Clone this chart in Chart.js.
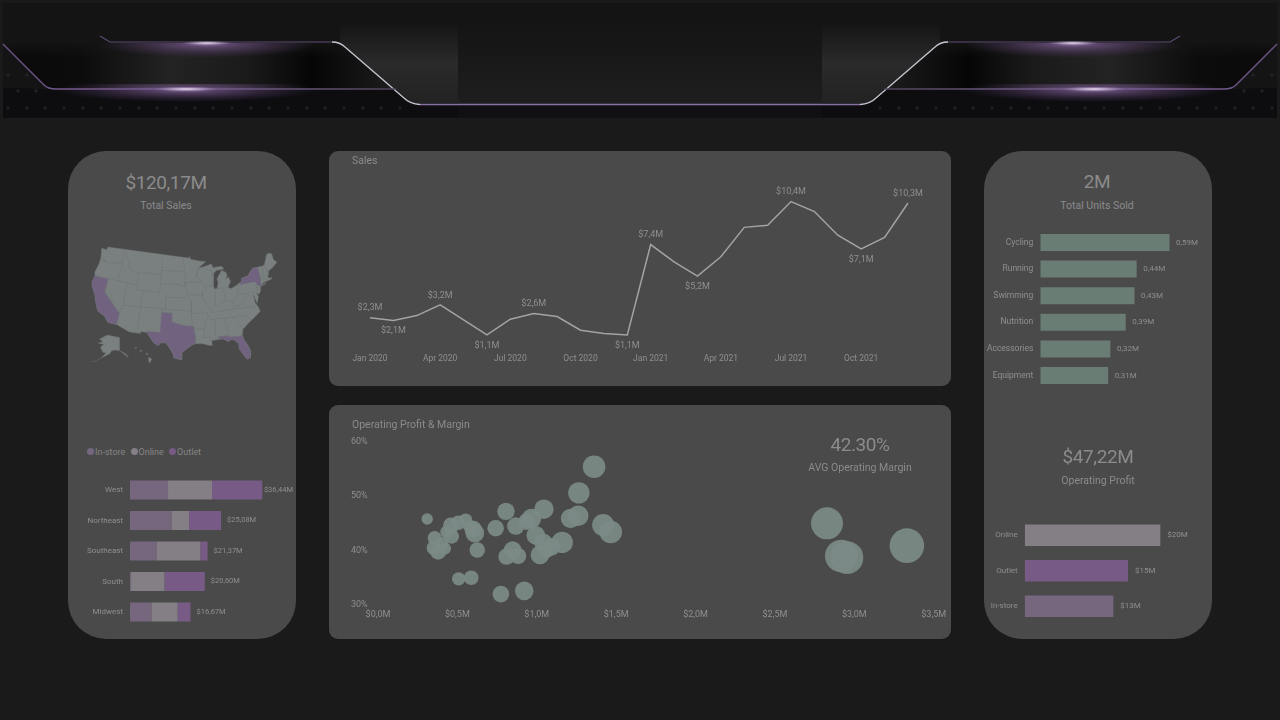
<!DOCTYPE html>
<html>
<head>
<meta charset="utf-8">
<title>Sales dashboard</title>
<script src="https://cdn.jsdelivr.net/npm/chart.js@4"></script>
<style>
  html, body { margin: 0; padding: 0; background: #1a1a1a; }
  body { width: 1280px; height: 720px; position: relative; overflow: hidden; font-family: Roboto, sans-serif; color: #8b8b8b; }
  .panel { position: absolute; background: #4a4a4a; }
  .tall { top: 151px; width: 228px; height: 488px; border-radius: 38px; }
  .wide { left: 329px; width: 622px; border-radius: 9px; }
  canvas { position: absolute; }
  .txt { position: absolute; white-space: nowrap; transform: translate(-50%, -50%); }
  .kpi { font-size: 19px; letter-spacing: -0.4px; }
  .sub { font-size: 10.5px; }
  .title { position: absolute; font-size: 10.5px; white-space: nowrap; }
  .legend { position: absolute; left: 87px; top: 446px; font-size: 9px; line-height: 12px; white-space: nowrap; color: #858585; }
  .legend i { display: inline-block; width: 7px; height: 7px; border-radius: 50%; margin: 0 1px 0 0; }
  .legend span { margin-right: 3px; }
  #banner { position: absolute; left: 0; top: 0; }
</style>
</head>
<body>
<svg id="banner" width="1280" height="120" viewBox="0 0 1280 120">
  <defs>
    <radialGradient id="glowPurple">
      <stop offset="0" stop-color="#b79ccc"/>
      <stop offset="0.2" stop-color="#7f5f95" stop-opacity="0.9"/>
      <stop offset="1" stop-color="#5c3f70" stop-opacity="0"/>
    </radialGradient>
    <radialGradient id="spark">
      <stop offset="0" stop-color="#f2e8f8"/>
      <stop offset="1" stop-color="#b79ccc" stop-opacity="0"/>
    </radialGradient>
    <linearGradient id="sideDark" x1="0" x2="1" y1="0" y2="0">
      <stop offset="0" stop-color="#0a0a0a"/>
      <stop offset="0.2" stop-color="#0c0c0c"/>
      <stop offset="0.42" stop-color="#232323"/>
      <stop offset="0.62" stop-color="#1a1a1a"/>
      <stop offset="0.78" stop-color="#050505"/>
      <stop offset="1" stop-color="#1f1f1f"/>
    </linearGradient>
    <linearGradient id="topFade" x1="0" x2="0" y1="0" y2="1">
      <stop offset="0" stop-color="#141414"/>
      <stop offset="0.35" stop-color="#141414" stop-opacity="0"/>
    </linearGradient>
    <linearGradient id="shoulder" gradientUnits="userSpaceOnUse" x1="0" x2="0" y1="22" y2="104">
      <stop offset="0" stop-color="#2a2a2a" stop-opacity="0"/>
      <stop offset="0.5" stop-color="#2a2a2a"/>
      <stop offset="1" stop-color="#222"/>
    </linearGradient>
    <linearGradient id="midDark" x1="0" x2="0" y1="0" y2="1">
      <stop offset="0" stop-color="#141414"/>
      <stop offset="1" stop-color="#1e1e1e"/>
    </linearGradient>
    <linearGradient id="edgeFade" x1="0" x2="1" y1="0" y2="0">
      <stop offset="0" stop-color="#6f5587"/>
      <stop offset="0.5" stop-color="#7a5f92"/>
      <stop offset="1" stop-color="#4e4458"/>
    </linearGradient>
    <clipPath id="underUpper"><rect x="0" y="43" width="460" height="42"/></clipPath>
    <clipPath id="underLower"><rect x="0" y="84" width="460" height="34"/></clipPath>
    <g id="bannerSide">
      <path d="M3 44 L47 88 L400 88 L342 43 L105 43 L60 43 Z" fill="url(#sideDark)"/>
      <rect x="3" y="40" width="400" height="50" fill="url(#topFade)"/>
      <path d="M340 43 L412 103 L458 103 L458 22 L340 22 Z" fill="url(#shoulder)"/>
      <path d="M3 88 L47 89 L395 89 L412 105 L458 106 L458 118 L3 118 Z" fill="#0d0d10"/>
      <g clip-path="url(#underUpper)"><ellipse cx="207" cy="44" rx="110" ry="14" fill="url(#glowPurple)" opacity="0.75"/></g>
      <g clip-path="url(#underLower)"><ellipse cx="186" cy="90" rx="130" ry="12" fill="url(#glowPurple)" opacity="0.75"/></g>
      <path d="M100 36 L110 42 L332 42" fill="none" stroke="#5f4a72" stroke-width="1.2"/>
      <path d="M332 42 Q340 42 345 47 L404 98 Q410 104 420 104.5" fill="none" stroke="#c9c7d2" stroke-width="1.3"/>
      <path d="M3 44 L44 85 Q48 89 56 89 L396 89" fill="none" stroke="url(#edgeFade)" stroke-width="1.3"/>
      <ellipse cx="186" cy="89" rx="32" ry="2.4" fill="url(#spark)"/>
      <ellipse cx="207" cy="43" rx="26" ry="2.2" fill="url(#spark)"/>
      <g fill="#212124">
        <circle cx="8" cy="108" r="1.8"/><circle cx="27" cy="108" r="1.8"/><circle cx="45" cy="108" r="1.8"/>
        <circle cx="64" cy="108" r="1.8"/><circle cx="83" cy="108" r="1.8"/><circle cx="101" cy="108" r="1.8"/>
        <circle cx="120" cy="108" r="1.8"/><circle cx="139" cy="108" r="1.8"/><circle cx="157" cy="108" r="1.8"/>
        <circle cx="176" cy="108" r="1.8"/><circle cx="195" cy="108" r="1.8"/><circle cx="213" cy="108" r="1.8"/>
        <circle cx="232" cy="108" r="1.8"/><circle cx="251" cy="108" r="1.8"/><circle cx="269" cy="108" r="1.8"/>
        <circle cx="288" cy="108" r="1.8"/><circle cx="307" cy="108" r="1.8"/><circle cx="325" cy="108" r="1.8"/>
        <circle cx="344" cy="108" r="1.8"/><circle cx="363" cy="108" r="1.8"/><circle cx="381" cy="108" r="1.8"/>
        <circle cx="400" cy="108" r="1.8"/>
        <circle cx="8" cy="75" r="1.8"/><circle cx="27" cy="75" r="1.8"/><circle cx="18" cy="91" r="1.8"/><circle cx="36" cy="91" r="1.8"/>
      </g>
    </g>
  </defs>
  <rect x="3" y="3" width="1274" height="115" fill="#141414"/>
  <rect x="458" y="22" width="364" height="82" fill="url(#midDark)"/>
  <rect x="458" y="105" width="364" height="13" fill="#101013"/>
  <use href="#bannerSide"/>
  <use href="#bannerSide" transform="translate(1280 0) scale(-1 1)"/>
  <path d="M420 104.5 L860 104.5" stroke="#8a6fa2" stroke-width="1.4"/>
</svg>

<div class="panel tall" style="left:68px"></div>
<div class="panel tall" style="left:984px"></div>
<div class="panel wide" style="top:151px;height:235px"></div>
<div class="panel wide" style="top:405px;height:234px"></div>

<canvas id="mapChart" width="200" height="130" style="left:85px;top:240px"></canvas>
<canvas id="regionChart" width="228" height="165" style="left:68px;top:470px"></canvas>
<canvas id="salesChart" width="622" height="235" style="left:329px;top:151px"></canvas>
<canvas id="marginChart" width="622" height="234" style="left:329px;top:405px"></canvas>
<canvas id="unitsChart" width="228" height="175" style="left:984px;top:220px"></canvas>
<canvas id="profitChart" width="228" height="130" style="left:984px;top:505px"></canvas>

<div class="txt kpi" style="left:166px;top:182px">$120,17M</div>
<div class="txt sub" style="left:166px;top:205px">Total Sales</div>
<div class="legend">
  <i style="background:#76677f"></i><span>In-store</span>
  <i style="background:#837f85"></i><span>Online</span>
  <i style="background:#785a86"></i><span>Outlet</span>
</div>
<div class="title" style="left:352px;top:154px">Sales</div>
<div class="title" style="left:352px;top:418px">Operating Profit &amp; Margin</div>
<div class="txt kpi" style="left:860px;top:444px">42.30%</div>
<div class="txt sub" style="left:860px;top:467px">AVG Operating Margin</div>
<div class="txt kpi" style="left:1097px;top:181px">2M</div>
<div class="txt sub" style="left:1097px;top:205px">Total Units Sold</div>
<div class="txt kpi" style="left:1098px;top:456px">$47,22M</div>
<div class="txt sub" style="left:1098px;top:480px">Operating Profit</div>

<script>
const months = ['Jan 2020', 'Feb 2020', 'Mar 2020', 'Apr 2020', 'May 2020', 'Jun 2020', 'Jul 2020', 'Aug 2020', 'Sep 2020', 'Oct 2020', 'Nov 2020', 'Dec 2020',
  'Jan 2021', 'Feb 2021', 'Mar 2021', 'Apr 2021', 'May 2021', 'Jun 2021', 'Jul 2021', 'Aug 2021', 'Sep 2021', 'Oct 2021', 'Nov 2021', 'Dec 2021'];
const salesByMonth = [2.3, 2.1, 2.45, 3.2, 2.15, 1.1, 2.2, 2.6, 2.38, 1.43, 1.2, 1.1, 7.4, 6.2, 5.2, 6.55, 8.6, 8.75, 10.4, 9.7, 8.05, 7.1, 7.9, 10.3];
const salesLabelledAbove = [0, 3, 7, 12, 18, 23];
const salesLabelledBelow = [1, 5, 11, 14, 21];

const regions = ['West', 'Northeast', 'Southeast', 'South', 'Midwest'];
const regionInStore = [10.47, 11.39, 7.25, 0.3, 5.87];
const regionOnline = [12.12, 4.87, 12.12, 9.2, 7.25];
const regionOutlet = [13.85, 8.82, 2.0, 11.1, 3.55];
const regionTotals = [36.44, 25.08, 21.37, 20.6, 16.67];

const products = ['Cycling', 'Running', 'Swimming', 'Nutrition', 'Accessories', 'Equipment'];
const unitsSold = [0.59, 0.44, 0.43, 0.39, 0.32, 0.31];

const channels = ['Online', 'Outlet', 'In-store'];
const channelProfit = [19.55, 14.89, 12.78];

const profitTicks = ['$0,0M', '$0,5M', '$1,0M', '$1,5M', '$2,0M', '$2,5M', '$3,0M', '$3,5M'];
const bubbleProfit = [1.361, 1.265, 1.045, 0.806, 0.31, 1.261, 1.213, 0.967, 0.936, 0.868, 0.741, 1.418, 1.466, 0.552, 0.505, 0.579, 0.61, 0.432, 0.464, 0.357,
  0.352, 0.379, 0.422, 0.625, 0.994, 1.04, 1.16, 1.093, 1.02, 0.848, 0.81, 0.883, 0.508, 0.587, 0.774, 0.921, 2.828, 3.331, 2.918, 2.954, 0.4, 0.46, 0.6, 1.06];
const bubbleMargin = [55.4, 50.6, 47.6, 47.2, 45.8, 46.4, 45.9, 45.9, 45.3, 44.5, 44.1, 44.7, 43.4, 45.6, 45.1, 44.4, 43.2, 43.4, 42.6, 42.3,
  40.5, 39.8, 40.4, 40.1, 42.8, 41.5, 41.5, 40.7, 39.2, 40.1, 38.9, 39.0, 34.8, 35.0, 32.0, 32.6, 45.0, 40.9, 39.0, 38.7, 41.2, 44.6, 43.9, 40.3];
const bubbleSize = [11.3, 10.7, 9.7, 8.7, 5.7, 10.3, 9.7, 9.7, 8.3, 8.7, 8.3, 11, 11.3, 6.7, 7.3, 6.7, 9.3, 6.3, 7.3, 7,
  7.3, 8, 6, 7.7, 9.3, 9, 10.7, 8.7, 9.3, 8.7, 8.3, 8, 6.7, 7.3, 8.3, 9.3, 16, 17.3, 16.3, 16.3, 7, 8, 8.5, 9];

// state outlines as [lon, lat]
const usOutline = [[-124.7,48.4],[-123,48.3],[-122.8,49],[-95.2,49],[-95.15,49.4],[-94.6,48.7],[-92,48.3],[-89.6,48],[-92.1,46.75],[-90.5,46.9],[-88.4,47.3],[-87.9,47.45],[-87.4,46.5],[-85,46.7],[-84.4,46.5],[-84,46],[-84.8,45.9],[-86.5,45.8],[-87.6,45.1],[-88,44.55],[-87.3,45.2],[-87.7,43.8],[-87.8,42.5],[-87.5,41.7],[-86.8,41.8],[-86.3,43],[-86.5,44],[-85.5,45],[-84.8,45.75],[-83.4,45.1],[-83.3,44.3],[-83.9,43.7],[-82.9,44.05],[-82.45,43],[-83.1,42.2],[-83.4,41.7],[-82.5,41.4],[-81,41.9],[-79,42.7],[-79,43.27],[-76.8,43.6],[-76.2,44.2],[-75,45],[-71.5,45],[-71,45.3],[-70.3,46.2],[-70,46.7],[-69.2,47.45],[-68.3,47.35],[-67.8,47.05],[-67.8,45.7],[-67,44.9],[-69,44],[-70.2,43.6],[-70.7,43],[-70.8,42.6],[-71,42.3],[-70.6,41.95],[-70,42],[-70,41.65],[-71.2,41.5],[-72.9,41.25],[-73.7,40.95],[-72,41.05],[-74,40.55],[-74.1,39.7],[-74.9,38.95],[-75.5,39.5],[-75.1,38.5],[-75.9,37.1],[-76.4,39.2],[-76.4,37.2],[-75.9,36.6],[-75.5,35.25],[-76.5,34.65],[-77.9,33.9],[-79.2,33.2],[-81,32],[-81.4,30.7],[-81.2,29.6],[-80.5,28.4],[-80,26.8],[-80.3,25.4],[-81.1,25.1],[-81.8,26.1],[-82.7,27.7],[-82.7,28.9],[-83.7,29.9],[-84.3,30.05],[-85.3,29.7],[-86.5,30.4],[-88,30.3],[-89.5,30.2],[-89.4,29.1],[-90.5,29.2],[-91.8,29.6],[-93.8,29.7],[-94.8,29.3],[-96,28.5],[-97.2,27.6],[-97.2,26],[-99.1,26.4],[-99.5,27.5],[-100.6,29],[-101.4,29.77],[-102.7,29.7],[-103.2,29],[-104.5,29.6],[-106.5,31.75],[-108.2,31.78],[-108.2,31.33],[-111.07,31.33],[-114.8,32.5],[-117.1,32.53],[-118.4,33.75],[-120.6,34.55],[-121.9,36.6],[-122.5,37.8],[-123.8,39.3],[-124.4,40.4],[-124.1,41.9],[-124.5,42.8],[-124,44.8],[-124,46.3],[-124.7,48.4]];
const stateCA = [[-124.2,42],[-120,42],[-120,39],[-114.6,35],[-114.8,32.5],[-117.1,32.53],[-118.4,33.75],[-120.6,34.55],[-121.9,36.6],[-122.5,37.8],[-123.8,39.3],[-124.4,40.4],[-124.2,42]];
const stateTX = [[-103,36.5],[-100,36.5],[-100,34.56],[-97,33.8],[-94.5,33.65],[-94.05,33.6],[-94.05,33],[-93.6,31.2],[-93.8,29.7],[-94.8,29.3],[-96,28.5],[-97.2,27.6],[-97.2,26],[-99.1,26.4],[-99.5,27.5],[-100.6,29],[-101.4,29.77],[-102.7,29.7],[-103.2,29],[-104.5,29.6],[-106.5,31.75],[-106.6,32],[-103,32],[-103,36.5]];
const stateFL = [[-87.6,31],[-85,31],[-85,30.7],[-82.2,30.55],[-81.4,30.7],[-81.2,29.6],[-80.5,28.4],[-80,26.8],[-80.3,25.4],[-81.1,25.1],[-81.8,26.1],[-82.7,27.7],[-82.7,28.9],[-83.7,29.9],[-84.3,30.05],[-85.3,29.7],[-86.5,30.4],[-87.6,30.3],[-87.6,31]];
const stateNY = [[-79.76,42.27],[-79,42.7],[-79,43.27],[-76.8,43.6],[-76.2,44.2],[-75,45],[-73.35,45],[-73.3,43.6],[-73.3,42.75],[-73.5,42.05],[-73.65,41],[-72,41.05],[-74,40.6],[-74.7,41.35],[-75.35,42],[-79.76,42],[-79.76,42.27]];
const stateLines = [
  [[-124,46.25],[-123,46.1],[-122.7,45.6],[-121,45.65],[-119,45.95],[-116.92,46]],
  [[-117.03,49],[-117.04,46.4],[-116.92,46],[-116.5,45.5],[-117,44.2],[-117.03,42]],
  [[-124.2,42],[-111.05,42]],
  [[-116.05,49],[-116.05,48],[-114.5,46.6],[-114.5,45.6],[-113.5,45],[-111.05,44.5]],
  [[-111.05,45],[-104.05,45]],
  [[-111.05,45],[-111.05,41],[-104.05,41]],
  [[-104.05,49],[-104.05,41]],
  [[-104.05,45.94],[-96.56,45.94]],
  [[-104.05,43],[-98.5,43],[-96.45,42.5]],
  [[-102.05,41],[-102.05,37]],
  [[-102.05,40],[-95.3,40]],
  [[-109.05,41],[-109.05,31.33]],
  [[-114.05,37],[-94.62,37]],
  [[-114.05,42],[-114.05,36.2],[-114.6,36.1],[-114.6,35]],
  [[-120,42],[-120,39],[-114.6,35]],
  [[-103,37],[-103,36.5]],
  [[-103,36.5],[-100,36.5]],
  [[-94.62,39.1],[-94.62,36.5],[-90.1,36.5],[-90.35,36],[-89.7,36]],
  [[-95.3,40],[-94.9,39.8],[-94.62,39.1]],
  [[-94.62,36.5],[-94.45,33.65]],
  [[-94.05,33],[-91.15,33]],
  [[-91.15,33],[-91.6,31],[-89.75,31],[-89.5,30.2]],
  [[-89.7,36],[-90.6,34.8],[-91.15,33]],
  [[-92.1,46.75],[-92.3,46.1],[-92.8,45.5],[-92.8,44.8],[-91.2,43.5]],
  [[-96.45,43.5],[-91.2,43.5]],
  [[-97.2,49],[-96.56,45.94],[-96.45,43.5],[-96.45,42.5],[-95.9,41.3],[-95.3,40]],
  [[-95.3,40.6],[-91.7,40.6],[-91.4,40.4]],
  [[-91.2,43.5],[-90.65,42.5],[-90.2,41.8],[-91.1,41.2],[-91.4,40.4],[-91.5,40],[-90.7,39],[-90.2,38.7],[-89.5,37.3],[-89.15,37]],
  [[-90.65,42.5],[-87.8,42.5]],
  [[-90.4,46.55],[-88.1,45.9],[-87.6,45.1]],
  [[-87.53,41.7],[-87.53,39.3],[-88,37.9]],
  [[-84.8,41.7],[-84.8,39.1]],
  [[-87,41.76],[-83.4,41.73]],
  [[-89.15,37],[-88,37.9],[-86.5,38],[-85.5,38.5],[-84.8,39.1],[-84,38.8],[-82.6,38.4],[-81.7,39.2],[-80.6,40.6]],
  [[-80.52,42],[-80.52,39.72],[-75.8,39.72]],
  [[-74.7,41.35],[-75.1,40.9],[-74.7,40.1],[-75.5,39.8]],
  [[-82,37.5],[-81.7,37.2],[-80,37.5],[-78.9,38.8],[-77.8,39.3]],
  [[-82.6,38.4],[-82,37.5],[-83.7,36.6]],
  [[-89.5,36.5],[-75.9,36.55]],
  [[-90.3,35],[-83.1,35],[-81,35.1],[-79.7,34.8],[-78.5,33.85]],
  [[-88.2,35],[-88.4,30.3]],
  [[-85.6,35],[-85.1,32],[-85,31]],
  [[-83.1,35],[-81,32]],
  [[-71.5,45],[-72.5,42.75]],
  [[-73.3,42.75],[-70.8,42.75]],
  [[-71.05,45.3],[-70.7,43.1]],
  [[-73.5,42.05],[-71.4,42]],
  [[-71.8,42],[-71.85,41.3]]
];
const alaska = [[-141,69.6],[-156.5,71.3],[-166,68.5],[-162,66.5],[-168,65.6],[-161,64.5],[-165,62.5],[-162,59],[-158,58.5],[-164,54.8],[-153,58],[-151,60],[-146,60.5],[-141,60],[-135,57.5],[-130,55],[-133,57.8],[-137,59],[-141,60.2],[-141,69.6]];
const aleutians = [[-164,54.8],[-170,53],[-176,52]];
const hawaiiIslands = [
  [[-155.9,20.2],[-155,19.8],[-155.6,19],[-156,19.6],[-155.9,20.2]],
  [[-156.7,21],[-156,20.8],[-156.4,20.6],[-156.7,21]],
  [[-158.3,21.6],[-157.7,21.4],[-158.1,21.3],[-158.3,21.6]],
  [[-159.8,22.2],[-159.3,22.1],[-159.5,21.9],[-159.8,22.2]]
];

Chart.defaults.animation = false;
Chart.defaults.responsive = false;
Chart.defaults.font.family = 'Roboto, sans-serif';
Chart.defaults.color = '#8f8f8f';
Chart.defaults.plugins.legend.display = false;
Chart.defaults.plugins.tooltip.enabled = false;

const TEXT = '#8f8f8f';
const GREEN = '#6a7d74';
const IN_STORE = '#76677f';
const ONLINE = '#837f85';
const OUTLET = '#785a86';

function money(v, digits) {
  return '$' + v.toFixed(digits).replace('.', ',') + 'M';
}

// albers conic, then fitted to the map box of the page
function albers(lon, lat) {
  const r = Math.PI / 180;
  const p1 = 29.5 * r, p2 = 45.5 * r;
  const n = (Math.sin(p1) + Math.sin(p2)) / 2;
  const c = Math.cos(p1) ** 2 + 2 * n * Math.sin(p1);
  const rho = Math.sqrt(c - 2 * n * Math.sin(lat * r)) / n;
  const rho0 = Math.sqrt(c - 2 * n * Math.sin(37.5 * r)) / n;
  const th = n * (lon + 96) * r;
  return [rho * Math.sin(th), rho0 - rho * Math.cos(th)];
}
const flat = usOutline.map(p => albers(p[0], p[1]));
const minX = Math.min(...flat.map(p => p[0])), maxX = Math.max(...flat.map(p => p[0]));
const minY = Math.min(...flat.map(p => p[1])), maxY = Math.max(...flat.map(p => p[1]));
function lower48(p) {
  const q = albers(p[0], p[1]);
  return { x: 92 + (q[0] - minX) / (maxX - minX) * 185, y: 247 + (maxY - q[1]) / (maxY - minY) * 113 };
}
const alaskaPoint = p => ({ x: 98 + (p[0] + 168) * 0.8, y: 335 + (71.3 - p[1]) * 1.4 });
const hawaiiPoint = p => ({ x: 150 + (p[0] + 155.5) * 3.5, y: 360 - (p[1] - 19.6) * 5 });

function mapShape(points, fillColor) {
  return { data: points, showLine: true, pointRadius: 0, borderWidth: 0.4, borderColor: '#6c7271', backgroundColor: fillColor, fill: 'shape' };
}
function mapLine(points) {
  return { data: points, showLine: true, pointRadius: 0, borderWidth: 0.5, borderColor: '#6c7271', fill: false };
}
const MAP_GREY = '#7a807f';
const MAP_PURPLE = '#716280';

// first dataset ends up on top
new Chart(document.getElementById('mapChart'), {
  type: 'scatter',
  data: {
    datasets: [
      ...stateLines.map(l => mapLine(l.map(lower48))),
      mapShape(stateCA.map(lower48), MAP_PURPLE),
      mapShape(stateTX.map(lower48), MAP_PURPLE),
      mapShape(stateFL.map(lower48), MAP_PURPLE),
      mapShape(stateNY.map(lower48), MAP_PURPLE),
      mapShape(usOutline.map(lower48), MAP_GREY),
      mapShape(alaska.map(alaskaPoint), MAP_GREY),
      mapLine(aleutians.map(alaskaPoint)),
      ...hawaiiIslands.map(i => mapShape(i.map(hawaiiPoint), MAP_GREY)),
    ],
  },
  options: {
    scales: {
      x: { type: 'linear', display: false, min: 85, max: 285 },
      y: { type: 'linear', display: false, min: 240, max: 370, reverse: true },
    },
  },
});

// text to the right of the last stacked bar, kept inside the card
function barEndLabels(texts, fontSize, gap) {
  return {
    id: 'barEndLabels',
    afterDatasetsDraw(chart) {
      const ctx = chart.ctx;
      const last = chart.getDatasetMeta(chart.data.datasets.length - 1);
      ctx.save();
      ctx.font = fontSize + 'px Roboto, sans-serif';
      ctx.fillStyle = TEXT;
      ctx.textBaseline = 'middle';
      last.data.forEach((bar, i) => {
        const room = chart.width - ctx.measureText(texts[i]).width - 3;
        ctx.fillText(texts[i], Math.min(bar.x + gap, room), bar.y);
      });
      ctx.restore();
    },
  };
}

function barChart(id, labels, datasets, texts, opt) {
  return new Chart(document.getElementById(id), {
    type: 'bar',
    data: { labels, datasets },
    options: {
      indexAxis: 'y',
      categoryPercentage: 1,
      barPercentage: opt.thickness,
      layout: { padding: { top: opt.top, bottom: opt.bottom } },
      scales: {
        x: { display: false, stacked: true, min: 0, max: opt.max },
        y: {
          stacked: true,
          grid: { display: false, drawTicks: false },
          border: { display: false },
          ticks: { padding: 7, font: { size: opt.fontSize }, color: TEXT, autoSkip: false },
          afterFit(scale) {
            scale.width = opt.axisWidth;
            scale.paddingTop = 0;
            scale.paddingBottom = 0;
          },
        },
      },
    },
    plugins: [barEndLabels(texts, opt.valueSize, opt.gap)],
  });
}

barChart('regionChart', regions, [
  { data: regionInStore, backgroundColor: IN_STORE },
  { data: regionOnline, backgroundColor: ONLINE },
  { data: regionOutlet, backgroundColor: OUTLET },
], regionTotals.map(v => money(v, 2)), { thickness: 0.623, top: 4.75, bottom: 7.75, max: 45.73, axisWidth: 62, fontSize: 8, valueSize: 7.5, gap: 6 });

barChart('unitsChart', products, [
  { data: unitsSold, backgroundColor: GREEN },
], unitsSold.map(v => v.toFixed(2).replace('.', ',') + 'M'), { thickness: 0.64, top: 9.2, bottom: 6.2, max: 0.784, axisWidth: 56.3, fontSize: 8.5, valueSize: 8, gap: 6.5 });

barChart('profitChart', channels, [
  { data: channelProfit, backgroundColor: [ONLINE, OUTLET, IN_STORE] },
], channelProfit.map(v => money(v, 0)), { thickness: 0.604, top: 12.4, bottom: 10.9, max: 27, axisWidth: 40.7, fontSize: 8, valueSize: 8, gap: 7 });

// value labels on the turning points of the line
const salesPointLabels = {
  id: 'salesPointLabels',
  afterDatasetsDraw(chart) {
    const ctx = chart.ctx;
    const points = chart.getDatasetMeta(0).data;
    ctx.save();
    ctx.font = '9px Roboto, sans-serif';
    ctx.fillStyle = TEXT;
    ctx.textAlign = 'center';
    ctx.textBaseline = 'middle';
    salesLabelledAbove.forEach(i => ctx.fillText(money(salesByMonth[i], 1), points[i].x, points[i].y - 9.5));
    salesLabelledBelow.forEach(i => ctx.fillText(money(salesByMonth[i], 1), points[i].x, points[i].y + 10.5));
    ctx.restore();
  },
};

new Chart(document.getElementById('salesChart'), {
  type: 'line',
  data: {
    labels: months,
    datasets: [{ data: salesByMonth, borderColor: '#a3a3a3', borderWidth: 1.5, pointRadius: 0, tension: 0 }],
  },
  options: {
    layout: { padding: { left: 41, right: 43, top: 19 } },
    scales: {
      x: {
        grid: { display: false, drawTicks: false },
        border: { display: false },
        ticks: {
          autoSkip: false, maxRotation: 0, padding: 4, font: { size: 8.5 }, color: TEXT,
          callback(value, i) { return i % 3 === 0 ? this.getLabelForValue(value) : ''; },
        },
        afterFit(scale) { scale.height = 36; },
      },
      y: { display: false, min: 0.05, max: 12.6 },
    },
  },
  plugins: [salesPointLabels],
});

new Chart(document.getElementById('marginChart'), {
  type: 'bubble',
  data: {
    datasets: [{
      data: bubbleProfit.map((p, i) => ({ x: p, y: bubbleMargin[i], r: bubbleSize[i] })),
      backgroundColor: 'rgba(124,139,134,0.93)',
      borderWidth: 0,
      clip: false,
    }],
  },
  options: {
    layout: { padding: { left: 22, right: 17.3, top: 36.7 } },
    scales: {
      x: {
        min: 0, max: 3.5,
        grid: { display: false, drawTicks: false },
        border: { display: false },
        ticks: {
          stepSize: 0.5, padding: 4, maxRotation: 0, autoSkip: false, font: { size: 9 }, color: TEXT,
          callback(value, i) { return profitTicks[i]; },
        },
        afterFit(scale) { scale.height = 34; },
      },
      y: {
        min: 30, max: 60,
        grid: { display: false, drawTicks: false },
        border: { display: false },
        ticks: {
          stepSize: 10, padding: 0, crossAlign: 'far', font: { size: 9 }, color: TEXT,
          callback: v => v + '%',
        },
        afterFit(scale) { scale.width = 27; },
      },
    },
  },
});
</script>
</body>
</html>
